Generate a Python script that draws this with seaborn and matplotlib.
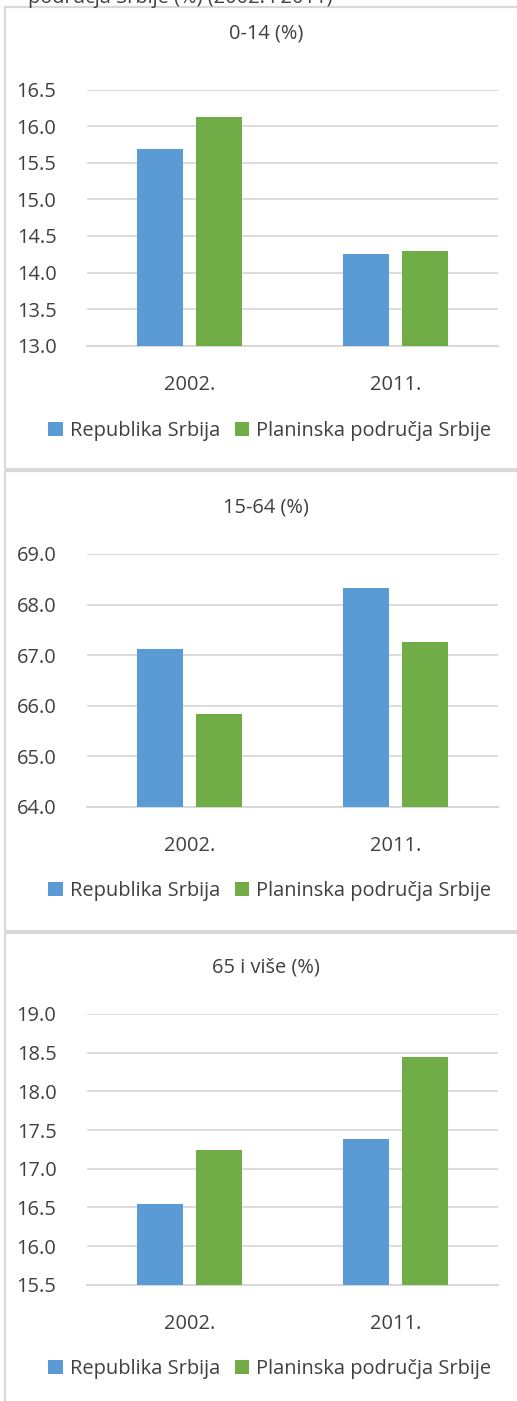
import matplotlib
matplotlib.use("Agg")
import matplotlib.pyplot as plt
import seaborn as sns
import pandas as pd
from matplotlib.patches import Patch, Rectangle

sns.set_theme(style="white")
plt.rcParams['font.family'] = ['Open Sans', 'DejaVu Sans']

years = ["2002.", "2011."]
series = ["Republika Srbija", "Planinska područja Srbije"]
titles = ["0-14 (%)", "15-64 (%)", "65 i više (%)"]
srbija = [[15.69, 14.26], [67.12, 68.33], [16.54, 17.39]]
planinska = [[16.13, 14.29], [65.83, 67.25], [17.24, 18.44]]
ylims = [(13.0, 16.5), (64.0, 69.0), (15.5, 19.0)]
ysteps = [0.5, 1.0, 0.5]
header = "područja Srbije (%) (2002. i 2011)"

BLUE = "#5B9BD5"
GREEN = "#70AD47"
GRID = "#D9D9D9"
TXT = "#404040"

W, H = 517, 1401
fig = plt.figure(figsize=(W / 100, H / 100), dpi=100)

def fx(px):
    return px / W

def fy(py):
    return 1 - py / H

fs = 14.4

# panel frames (top, bottom) in px
frames = [(7, 469), (471, 931), (933, 1420)]
for top, bot in frames:
    fig.patches.append(Rectangle((fx(5), fy(bot)), fx(560) - fx(5), fy(top) - fy(bot),
                                 transform=fig.transFigure, facecolor="none",
                                 edgecolor=GRID, linewidth=1.6, zorder=-5))

fig.text(fx(333), fy(3.5), header, ha="right", va="baseline", fontsize=fs, color=TXT)

# axes (ytop, ybottom) in px
axpos = [(89.7, 345.7), (554, 806.7), (1014, 1284.7)]
title_y = [34, 507, 967]
legend_y = [431, 891, 1369]

for i in range(3):
    ytop, ybot = axpos[i]
    ax = fig.add_axes([fx(87), fy(ybot), fx(498) - fx(87), fy(ytop) - fy(ybot)])
    df = pd.DataFrame({
        "year": years * 2,
        "series": [series[0]] * 2 + [series[1]] * 2,
        "value": srbija[i] + planinska[i],
    })
    sns.barplot(data=df, x="year", y="value", hue="series", hue_order=series,
                palette=[BLUE, GREEN], width=0.574, gap=0.22, ax=ax,
                legend=False, saturation=1, linewidth=0, zorder=3)
    lo, hi = ylims[i]
    ax.set_ylim(lo, hi)
    n = int(round((hi - lo) / ysteps[i]))
    ticks = [lo + k * ysteps[i] for k in range(n + 1)]
    ax.set_yticks(ticks)
    ax.set_yticklabels([f"{t:.1f}" for t in ticks])
    ax.set_xlim(-0.5, 1.5)
    ax.grid(axis="y", color=GRID, linewidth=1.3, zorder=0)
    ax.set_axisbelow(True)
    for s in ["top", "right", "left"]:
        ax.spines[s].set_visible(False)
    ax.spines["bottom"].set_color(GRID)
    ax.spines["bottom"].set_linewidth(1.5)
    ax.tick_params(axis="y", length=0, pad=22, labelsize=fs, labelcolor=TXT)
    ax.tick_params(axis="x", length=0, pad=21, labelsize=fs, labelcolor=TXT)
    ax.set_xlabel("")
    ax.set_ylabel("")
    ax.patch.set_alpha(0)

    fig.text(fx(266), fy(title_y[i]), titles[i], ha="center", va="center",
             fontsize=fs, color=TXT)

    handles = [Patch(facecolor=BLUE, edgecolor="none", label=series[0]),
               Patch(facecolor=GREEN, edgecolor="none", label=series[1])]
    fig.legend(handles=handles, loc="center", ncol=2,
               bbox_to_anchor=(fx(270), fy(legend_y[i])), frameon=False,
               fontsize=fs, handlelength=0.72, handleheight=0.72,
               handletextpad=0.35, columnspacing=0.75, labelcolor=TXT,
               borderpad=0, borderaxespad=0)

fig.savefig("out.png", dpi=100)
